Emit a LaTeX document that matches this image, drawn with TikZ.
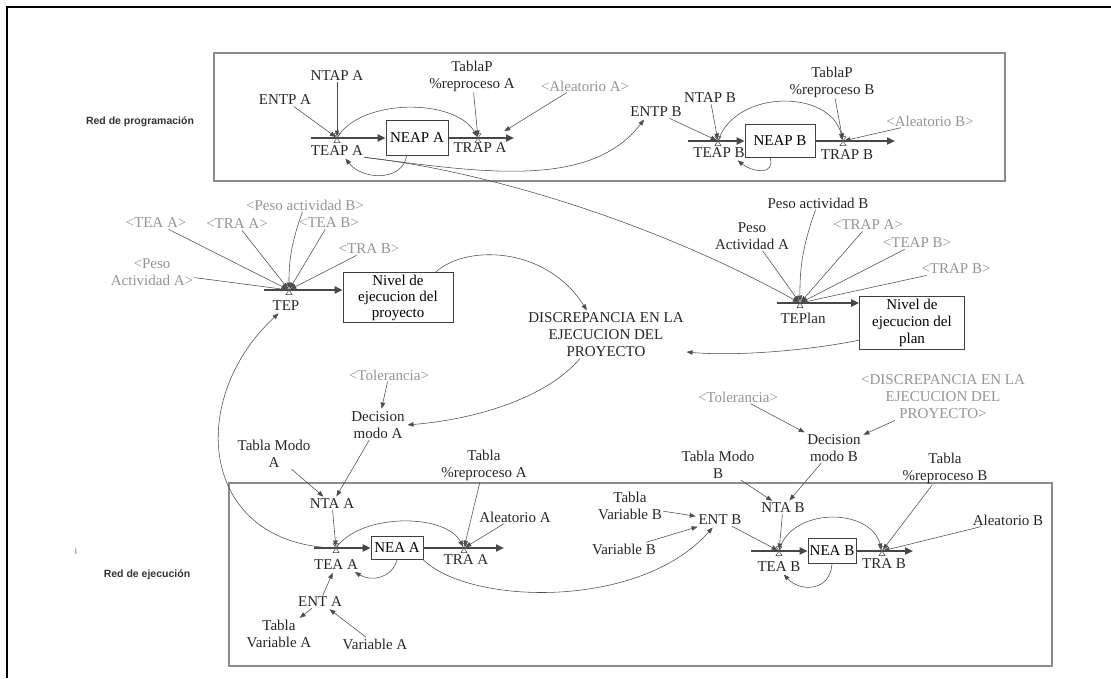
\documentclass[tikz,border=0pt]{standalone}
\usepackage{fontspec}
\setmainfont{Liberation Serif}
\newfontfamily\labsans{Liberation Sans}
\usetikzlibrary{arrows.meta}
\tikzset{
  lbl/.style={inner sep=1.2pt, align=center, text=black!85},
  glbl/.style={lbl, text=black!42},
  grouplbl/.style={inner sep=0pt, text=black!80, font=\labsans\bfseries\fontsize{10.5}{12}\selectfont},
  stock/.style={draw=black!75, line width=0.8pt, fill=white, inner sep=0pt, align=center},
  groupbox/.style={draw=black!45, line width=1.2pt},
  conn/.style={draw=black!70, line width=0.55pt, -{Triangle[length=6pt,width=4.5pt]}, shorten >=1.5pt},
  pipe/.style={draw=black!72, line width=2pt, -{Triangle[length=8pt,width=7pt]}},
  valvepic/.pic={\draw[black!75, fill=white, line width=0.5pt] (-3,-4.5) -- (3,-4.5) -- (-3,4.5) -- (3,4.5) -- cycle;}
}
\begin{document}
\begin{tikzpicture}[x=1pt,y=-1pt,font=\fontsize{15}{17}\selectfont]
\useasboundingbox (0,0) rectangle (1111,678);
% outer frame
\draw[line width=2pt] (7,678) -- (7,7) -- (1111,7);
% group boxes
\draw[groupbox] (214,53) rectangle (1005,181);
\draw[groupbox] (229,483) rectangle (1052,666);
\node[grouplbl] (redprog) at (140,122) {Red de programación};
\node[grouplbl] (redejec) at (147,575) {Red de ejecución};
\node[inner sep=0pt, text=black!60, font=\labsans\fontsize{8}{9}\selectfont] (mark) at (76,552) {I};

% coordinates of flows
\coordinate (vTEAPA) at (337,138); \coordinate (sTEAPA) at (311,138);
\coordinate (vTRAPA) at (478,138); \coordinate (eTRAPA) at (514,138);
\coordinate (aTRAPA) at (503,132);
\coordinate (vTEAPB) at (718,141); \coordinate (sTEAPB) at (688,141);
\coordinate (vTRAPB) at (843,141); \coordinate (eTRAPB) at (895,141);
\coordinate (vTEP) at (289,290); \coordinate (sTEP) at (264,290);
\coordinate (vTEPlan) at (800,303); \coordinate (sTEPlan) at (777,303);
\coordinate (vTEAA) at (336,548); \coordinate (sTEAA) at (314,548);
\coordinate (vTRAA) at (464,548); \coordinate (eTRAA) at (504,548);
\coordinate (vTEAB) at (779,551); \coordinate (sTEAB) at (751,551);
\coordinate (vTRAB) at (882,551); \coordinate (eTRAB) at (913,551);

% ---- programming net A
\node[lbl] (ENTPA) at (285,100) {ENTP A};
\node[lbl] (NTAPA) at (337,76) {NTAP A};
\node[lbl] (TEAPA) at (337,151) {TEAP A};
\node[stock, minimum width=62pt, minimum height=35pt] (NEAPA) at (417,138) {NEAP A};
\node[lbl] (TablaPA) at (472,76) {TablaP\\\%reproceso A};
\node[lbl] (TRAPA) at (480,148) {TRAP A};
\node[glbl] (AleatAg) at (585,86) {\textless Aleatorio A\textgreater};
% ---- programming net B
\node[lbl] (ENTPB) at (656,112) {ENTP B};
\node[lbl] (NTAPB) at (710,98) {NTAP B};
\node[lbl] (TEAPB) at (719,153) {TEAP B};
\node[stock, minimum width=70pt, minimum height=33pt] (NEAPB) at (780,141) {NEAP B};
\node[lbl] (TablaPB) at (832,82) {TablaP\\\%reproceso B};
\node[lbl] (TRAPB) at (847,155) {TRAP B};
\node[glbl] (AleatBg) at (930,121) {\textless Aleatorio B\textgreater};

% ---- middle
\node[glbl] (PesoBg) at (305,205) {\textless Peso actividad B\textgreater};
\node[glbl] (TEAg) at (156,223) {\textless TEA A\textgreater};
\node[glbl] (TRAg) at (237,224) {\textless TRA A\textgreater};
\node[glbl] (TEBg) at (329,223) {\textless TEA B\textgreater};
\node[glbl] (TRBg) at (369,249) {\textless TRA B\textgreater};
\node[glbl] (PesoAg) at (152,272) {\textless Peso\\Actividad A\textgreater};
\node[lbl] (TEP) at (286,306) {TEP};
\node[stock, minimum width=110pt, minimum height=50pt, font=\fontsize{15}{16}\selectfont] (NivelProy) at (398,297.5) {Nivel de\\ejecucion del\\proyecto};
\node[lbl] (DISC) at (606,335) {DISCREPANCIA EN LA\\EJECUCION DEL\\PROYECTO};
\node[lbl] (PesoB) at (818,203) {Peso actividad B};
\node[lbl] (PesoA) at (752,236) {Peso\\Actividad A};
\node[glbl] (TRAPAg) at (868,225) {\textless TRAP A\textgreater};
\node[glbl] (TEAPBg) at (917,243) {\textless TEAP B\textgreater};
\node[glbl] (TRAPBg) at (956,269) {\textless TRAP B\textgreater};
\node[lbl] (TEPlan) at (803,318) {TEPlan};
\node[stock, minimum width=105pt, minimum height=53pt] (NivelPlan) at (912,323) {Nivel de\\ejecucion del\\plan};
\node[glbl] (TolA) at (389,375) {\textless Tolerancia\textgreater};
\node[lbl] (DecA) at (378,425) {Decision\\modo A};
\node[glbl] (TolB) at (738,397) {\textless Tolerancia\textgreater};
\node[glbl] (DISCg) at (943,397) {\textless DISCREPANCIA EN LA\\EJECUCION DEL\\PROYECTO\textgreater};
\node[lbl] (DecB) at (834,448) {Decision\\modo B};

% ---- execution net A
\node[lbl] (TablaModoA) at (274,454) {Tabla Modo\\A};
\node[lbl] (NTAA) at (332,504) {NTA A};
\node[lbl] (TablaPctA) at (484,465) {Tabla\\\%reproceso A};
\node[lbl] (AleatA) at (515,517) {Aleatorio A};
\node[lbl] (TEAA) at (336,565) {TEA A};
\node[stock, minimum width=52pt, minimum height=23pt] (NEAA) at (397,548) {NEA A};
\node[lbl] (TRAA) at (466,560) {TRA A};
\node[lbl] (ENTA) at (320,602) {ENT A};
\node[lbl] (TablaVarA) at (279,634) {Tabla\\Variable A};
\node[lbl] (VarA) at (375,644) {Variable A};
% ---- execution net B
\node[lbl] (TablaModoB) at (718,465) {Tabla Modo\\B};
\node[lbl] (NTAB) at (783,508) {NTA B};
\node[lbl] (TablaPctB) at (945,468) {Tabla\\\%reproceso B};
\node[lbl] (ENTB) at (720,520) {ENT B};
\node[lbl] (TablaVarB) at (630,506) {Tabla\\Variable B};
\node[lbl] (VarB) at (624,549) {Variable B};
\node[lbl] (TEAB) at (779,567) {TEA B};
\node[stock, minimum width=48pt, minimum height=25pt] (NEAB) at (832,551) {NEA B};
\node[lbl] (TRAB) at (884,564) {TRA B};
\node[lbl] (AleatB) at (1008,520) {Aleatorio B};

% ---- pipes
\draw[pipe] (sTEAPA) -- (NEAPA.west);
\draw[pipe] (NEAPA.east) -- (eTRAPA);
\draw[pipe] (sTEAPB) -- (NEAPB.west);
\draw[pipe] (NEAPB.east) -- (eTRAPB);
\draw[pipe] (sTEP) -- (sTEP -| NivelProy.west);
\draw[pipe] (sTEPlan) -- (sTEPlan -| NivelPlan.west);
\draw[pipe] (sTEAA) -- (NEAA.west);
\draw[pipe] (NEAA.east) -- (eTRAA);
\draw[pipe] (sTEAB) -- (NEAB.west);
\draw[pipe] (NEAB.east) -- (eTRAB);
\foreach \v in {vTEAPA,vTRAPA,vTEAPB,vTRAPB,vTEP,vTEPlan,vTEAA,vTRAA,vTEAB,vTRAB}
  \pic at (\v) {valvepic};

% ---- connectors: programming A
\draw[conn] (ENTPA) -- (vTEAPA);
\draw[conn] (NTAPA) -- (vTEAPA);
\draw[conn] (vTEAPA) .. controls (360,98) and (455,98) .. (vTRAPA);
\draw[conn] (NEAPA.-120) .. controls (402,182) and (362,180) .. (TEAPA.-40);
\draw[conn] (TEAPA.south east) .. controls (480,172) and (590,190) .. (ENTPB.-150);
\draw[conn] (TEAPA.south east) .. controls (480,170) and (650,220) .. (vTEPlan);
\draw[conn] (AleatAg.-160) -- (aTRAPA);
\draw[conn] (TablaPA) -- (vTRAPA);
% programming B
\draw[conn] (ENTPB) -- (vTEAPB);
\draw[conn] (NTAPB) -- (vTEAPB);
\draw[conn] (vTEAPB) .. controls (735,89) and (830,89) .. (vTRAPB);
\draw[conn] (NEAPB.-120) .. controls (775,176) and (752,172) .. (TEAPB.-20);
\draw[conn] (TablaPB) -- (vTRAPB);
\draw[conn] (AleatBg) -- (vTRAPB);
% middle
\draw[conn] (PesoBg) to[bend right=10] (vTEP);
\draw[conn] (TEAg) -- (vTEP);
\draw[conn] (TRAg) -- (vTEP);
\draw[conn] (TEBg) -- (vTEP);
\draw[conn] (TRBg) -- (vTEP);
\draw[conn] (PesoAg) -- (vTEP);
\draw[conn] (NivelProy.34) .. controls (465,245) and (545,245) .. (DISC.128);
\draw[conn] (NivelPlan.-162) .. controls (800,352) and (730,356) .. (DISC.-12);
\draw[conn] (DISC.-138) .. controls (545,400) and (470,420) .. (DecA.east);
\draw[conn] (TolA) -- (DecA);
\draw[conn] (TolB) -- (DecB);
\draw[conn] (DISCg.-154) -- (DecB);
\draw[conn] (PesoA) -- (vTEPlan);
\draw[conn] (PesoB) to[bend right=10] (vTEPlan);
\draw[conn] (TRAPAg) -- (vTEPlan);
\draw[conn] (TEAPBg) -- (vTEPlan);
\draw[conn] (TRAPBg) -- (vTEPlan);
% execution A
\draw[conn] (DecA) -- (NTAA);
\draw[conn] (TablaModoA) -- (NTAA);
\draw[conn] (NTAA) -- (vTEAA);
\draw[conn] (ENTA) -- (TEAA);
\draw[conn] (VarA) -- (ENTA);
\draw[conn] (ENTA) -- (TablaVarA);
\draw[conn] (TablaPctA) -- (vTRAA);
\draw[conn] (AleatA) -- (vTRAA);
\draw[conn] (vTEAA) .. controls (360,513) and (445,513) .. (vTRAA);
\draw[conn] (NEAA.south) .. controls (392,578) and (372,582) .. (TEAA.-20);
\draw[conn] (vTEAA) .. controls (200,545) and (185,400) .. (TEP.-135);
\draw[conn] (NEAA.south east) .. controls (470,605) and (640,610) .. (ENTB.-135);
% execution B
\draw[conn] (TablaModoB) -- (NTAB);
\draw[conn] (DecB) -- (NTAB);
\draw[conn] (TablaVarB) -- (ENTB);
\draw[conn] (VarB) -- (ENTB);
\draw[conn] (ENTB) -- (vTEAB);
\draw[conn] (NTAB) -- (vTEAB);
\draw[conn] (vTEAB) .. controls (790,507) and (870,507) .. (vTRAB);
\draw[conn] (NEAB.south) .. controls (830,592) and (800,592) .. (TEAB.-60);
\draw[conn] (TablaPctB) -- (vTRAB);
\draw[conn] (AleatB) -- (vTRAB);
\end{tikzpicture}
\end{document}
